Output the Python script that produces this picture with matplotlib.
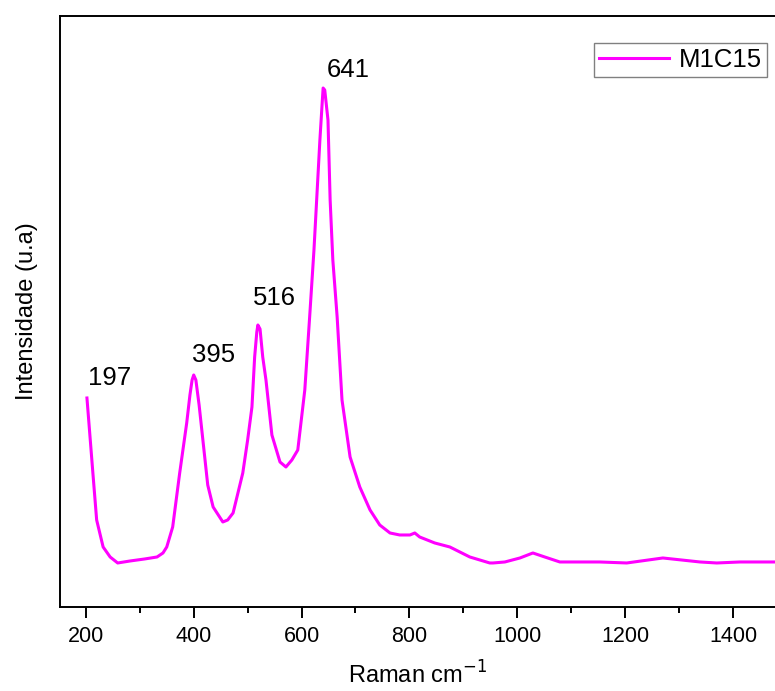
import matplotlib
matplotlib.use('Agg')
import matplotlib.pyplot as plt
from matplotlib.ticker import MultipleLocator

plt.rcParams['font.family'] = ['Liberation Sans', 'DejaVu Sans']

# Raman spectrum (wavenumber, arbitrary intensity)
raman = [202, 213, 220, 232, 245, 259, 282, 309, 332, 343, 350, 361, 374, 387,
         393, 397, 400, 404, 410, 417, 426, 436, 454, 463, 473, 491, 500, 508,
         513, 517, 519, 523, 528, 534, 545, 560, 571, 582, 593, 606, 615, 623,
         628, 634, 638, 640, 643, 649, 653, 658, 666, 675, 690, 708, 727, 745,
         764, 782, 801, 810, 819, 847, 875, 912, 949, 955, 977, 1005, 1029, 1051,
         1079, 1153, 1203, 1270, 1339, 1370, 1413, 1478]
intensidade = [209, 134, 87, 60, 50, 44, 46, 48, 50, 54, 60, 80, 134, 184,
               212, 227, 232, 227, 202, 167, 122, 100, 85, 87, 94, 134, 167, 200,
               250, 275, 282, 278, 250, 227, 172, 145, 140, 147, 157, 217, 290, 357,
               407, 467, 502, 519, 517, 487, 407, 347, 290, 207, 150, 120, 97, 82,
               74, 72, 72, 74, 70, 64, 60, 50, 44, 44, 45, 49, 54, 50,
               45, 45, 44, 49, 45, 44, 45, 45]

picos = ['197', '395', '516', '641']
picos_x = [204, 397, 510, 647]
picos_y = [217, 240, 297, 525]

fig = plt.figure(figsize=(7.75, 6.91), dpi=100)
ax = fig.add_axes([0.0774, 0.1216, 0.9226, 0.8552])

ax.plot(raman, intensidade, color='#ff00ff', lw=2.2, label='M1C15')

for txt, px, py in zip(picos, picos_x, picos_y):
    ax.text(px, py, txt, fontsize=18.5, ha='left', va='bottom')

ax.set_xlim(152, 1478)
ax.set_ylim(0, 591)
ax.set_yticks([])
ax.xaxis.set_major_locator(MultipleLocator(200))
ax.xaxis.set_minor_locator(MultipleLocator(100))
ax.tick_params(axis='x', which='major', length=8, width=1.4, labelsize=15.5, pad=6)
ax.tick_params(axis='x', which='minor', length=4.5, width=1.4)
for s in ['left', 'bottom', 'top']:
    ax.spines[s].set_linewidth(1.4)
ax.spines['right'].set_visible(False)

ax.set_xlabel('Raman cm$^{-1}$', fontsize=17, labelpad=10)
ax.set_ylabel('Intensidade (u.a)', fontsize=17, labelpad=16)

leg = ax.legend(loc='upper right', bbox_to_anchor=(0.989, 0.954), borderaxespad=0,
                fontsize=18.5, fancybox=False, framealpha=1, edgecolor='#808080',
                handlelength=2.7, handletextpad=0.4, borderpad=0.2)
leg.get_frame().set_linewidth(1.0)

fig.savefig('out.png', dpi=100)
